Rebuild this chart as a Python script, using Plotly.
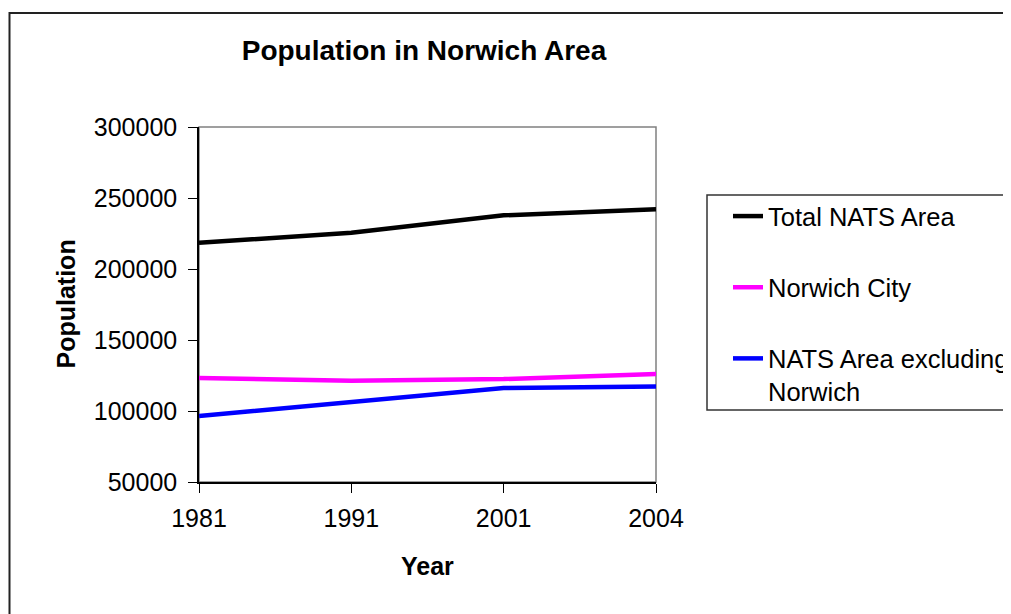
import plotly.graph_objects as go

years = ["1981", "1991", "2001", "2004"]
total_nats = [218500, 225500, 237800, 242100]
norwich_city = [123200, 121300, 122500, 126100]
nats_excl_norwich = [96400, 106000, 116200, 117300]
y_ticks = [50000, 100000, 150000, 200000, 250000, 300000]

OFF = 8  # page body margin
W, H = 1011 - OFF, 614 - OFF
L, R, T, B = 199, 656, 127, 482  # plot area in page pixels


def px(x):
    return (x - L) / (R - L)


def py(y):
    return (B - y) / (B - T)


xs = list(range(len(years)))
font = "Liberation Sans, Arial, sans-serif"

fig = go.Figure()
series = [
    ("Total NATS Area", total_nats, "#000000"),
    ("Norwich City", norwich_city, "#FF00FF"),
    ("NATS Area excluding<br>Norwich", nats_excl_norwich, "#0000FF"),
]
for i, (name, vals, col) in enumerate(series):
    fig.add_trace(go.Scatter(
        x=xs, y=vals, name=name, mode="lines",
        line=dict(color=col, width=4.5), legendgroup=f"g{i}",
    ))

shapes = [
    # outer chart border
    dict(type="rect", xref="paper", yref="paper",
         x0=px(9.5), x1=px(1030), y0=py(13), y1=py(640),
         line=dict(color="#222222", width=2), layer="below"),
    # plot area border (top/right grey)
    dict(type="rect", xref="paper", yref="paper",
         x0=0, x1=1, y0=0, y1=1,
         line=dict(color="#808080", width=1.5), layer="below"),
    # legend box
    dict(type="rect", xref="paper", yref="paper",
         x0=px(707), x1=px(1030), y0=py(195), y1=py(410),
         line=dict(color="#333333", width=1.5), layer="below"),
]

fig.update_layout(
    width=W, height=H,
    margin=dict(l=L - OFF, r=1011 - R, t=T - OFF, b=614 - B, autoexpand=False),
    paper_bgcolor="white", plot_bgcolor="white",
    font=dict(family=font, size=25, color="black"),
    title=dict(text="<b>Population in Norwich Area</b>",
               x=(424 - OFF) / W, xanchor="center", xref="container",
               y=1 - (50 - OFF) / H, yanchor="middle", yref="container",
               font=dict(size=28, family=font, color="black")),
    xaxis=dict(range=[0, 3], tickmode="array", tickvals=xs, ticktext=years,
               showgrid=False, zeroline=False, showline=True, linecolor="black",
               linewidth=1.5, ticks="outside", ticklen=9, tickcolor="black",
               tickfont=dict(size=25), ticklabelstandoff=4),
    yaxis=dict(range=[50000, 300000], tickmode="array", tickvals=y_ticks,
               ticktext=[str(v) for v in y_ticks],
               showgrid=False, zeroline=False, showline=True, linecolor="black",
               linewidth=1.5, ticks="outside", ticklen=9, tickcolor="black",
               tickfont=dict(size=25), ticklabelstandoff=6),
    showlegend=True,
    legend=dict(x=px(728), xanchor="left", y=py(193), yanchor="top",
                bgcolor="rgba(0,0,0,0)", borderwidth=0,
                font=dict(size=25.5, family=font, color="black"),
                tracegroupgap=35, valign="top"),
    shapes=shapes,
    annotations=[
        dict(text="<b>Population</b>", xref="paper", yref="paper",
             x=px(65), y=0.5, xanchor="center", yanchor="middle",
             textangle=-90, showarrow=False,
             font=dict(size=25, family=font, color="black")),
        dict(text="<b>Year</b>", xref="paper", yref="paper",
             x=px(427), y=py(566), xanchor="center", yanchor="middle",
             showarrow=False, font=dict(size=25, family=font, color="black")),
    ],
)

fig.write_html("out.html")
